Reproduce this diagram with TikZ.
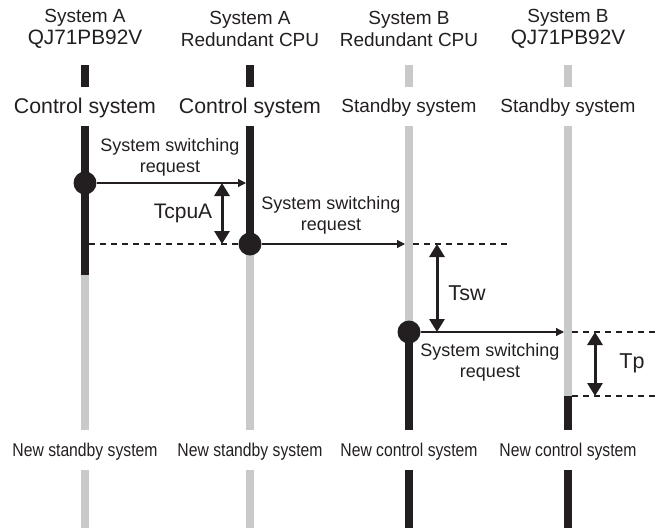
\documentclass[tikz,border=0pt]{standalone}
\usepackage{fontspec}
\setmainfont{Liberation Sans}
\newfontfamily\narrowfont[FakeStretch=0.85]{Liberation Sans}
\usetikzlibrary{arrows.meta}
\definecolor{laneblack}{RGB}{35,31,32}
\definecolor{lanegray}{RGB}{200,201,202}

\begin{document}
\begin{tikzpicture}[x=1pt,y=-1pt,
        lane/.style={line width=7.5pt},
        dot/.style={circle,fill=laneblack,minimum size=23pt,inner sep=0pt},
        req/.style={draw=laneblack,line width=1.2pt,-{Triangle[length=8pt,width=8pt]}},
        span/.style={draw=laneblack,line width=3pt,{Triangle[length=13pt,width=15pt]}-{Triangle[length=13pt,width=15pt]}},
        guide/.style={draw=laneblack,line width=1.4pt,dash pattern=on 6pt off 5pt},
        txt/.style={font=\fontsize{19}{21}\selectfont,text=laneblack,align=center,inner sep=0pt}]
            \useasboundingbox (0,0) rectangle (657,528);
            \foreach \x/\n/\a/\b/\s in {85/aq/System A/QJ71PB92V/20.8, 250/ac/System A/Redundant CPU/19,
                    409/bc/System B/Redundant CPU/19, 568/bq/System B/QJ71PB92V/20.8} {
                    \node[txt,font=\fontsize{19}{22}\selectfont] (head-\n) at (\x,29) {\a\\{\fontsize{\s}{22}\selectfont\b}};
                }
            \foreach \x/\c/\t/\b in {85/laneblack/65/87, 85/laneblack/126/275, 85/lanegray/275/430, 85/lanegray/470/528,
                    250/laneblack/65/87, 250/laneblack/126/244, 250/lanegray/244/430, 250/lanegray/470/528,
                    409/lanegray/65/87, 409/lanegray/126/332, 409/laneblack/332/430, 409/laneblack/470/528,
                    568/lanegray/65/87, 568/lanegray/126/396, 568/laneblack/396/430, 568/laneblack/470/528} {
                    \draw[lane,\c] (\x,\t) -- (\x,\b);
                }
            \foreach \x/\n/\s/\f in {85/aq/Control system/21.3, 250/ac/Control system/21.3,
                    409/bc/Standby system/19, 568/bq/Standby system/19} {
                    \node[txt,font=\fontsize{\f}{22}\selectfont] (state-\n) at (\x,108) {\s};
                }
            \foreach \x/\n/\s in {85/aq/New standby system, 250/ac/New standby system,
                    409/bc/New control system, 568/bq/New control system} {
                    \node[txt,font=\narrowfont\fontsize{18.5}{21}\selectfont] (new-\n) at (\x,452) {\s};
                }
            \draw[guide] (89,244) coordinate (gA) -- (250,244);
            \coordinate (gB1) at (413,244);
            \coordinate (gB2) at (508,244);
            \draw[guide] (gB1) -- (gB2);
            \coordinate (gC1) at (572,332);
            \coordinate (gC2) at (657,332);
            \draw[guide] (gC1) -- (gC2);
            \coordinate (gD1) at (572,396);
            \coordinate (gD2) at (657,396);
            \draw[guide] (gD1) -- (gD2);
            \node[dot] (sw1) at (85,183) {};
            \node[dot] (sw2) at (250,244) {};
            \node[dot] (sw3) at (409,332) {};
            \coordinate (in1) at (246,183);
            \coordinate (in2) at (405,244);
            \coordinate (in3) at (564,332);
            \draw[req] (sw1) -- (in1);
            \draw[req] (sw2) -- (in2);
            \draw[req] (sw3) -- (in3);
            \node[txt,font=\fontsize{18}{21}\selectfont] (req1) at (170,157) {System switching\\request};
            \node[txt,font=\fontsize{18}{21}\selectfont] (req2) at (331,215) {System switching\\request};
            \node[txt,font=\fontsize{18}{21}\selectfont] (req3) at (490,362) {System switching\\request};
            \coordinate (tc1) at (222,183);
            \coordinate (tc2) at (222,244);
            \coordinate (ts1) at (437,244);
            \coordinate (ts2) at (437,332);
            \coordinate (tp1) at (595,332);
            \coordinate (tp2) at (595,396);
            \draw[span] (tc1) -- (tc2);
            \draw[span] (ts1) -- (ts2);
            \draw[span] (tp1) -- (tp2);
            \node[txt,font=\fontsize{21}{22}\selectfont] (tcpu) at (183,213) {TcpuA};
            \node[txt,font=\fontsize{21.5}{22}\selectfont] (tsw) at (467,293) {Tsw};
            \node[txt,font=\fontsize{21.5}{22}\selectfont] (tp) at (632,363) {Tp};
        \end{tikzpicture}
\end{document}
